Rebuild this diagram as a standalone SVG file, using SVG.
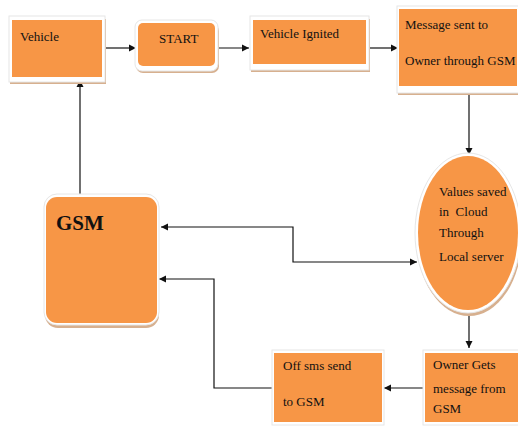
<svg xmlns="http://www.w3.org/2000/svg" width="518" height="426" viewBox="0 0 518 426">
<defs>
<style>
.sh{fill:#d7b08f}
.fr{fill:#ffffff;stroke:#e6e6e6;stroke-width:1}
.bx{fill:#f79646}
.t{font-family:"Liberation Serif","Times New Roman",serif;font-size:13px;fill:#111;white-space:pre}
.big{font-family:"Liberation Serif","Times New Roman",serif;font-size:21px;font-weight:bold;fill:#111}
.ln{fill:none;stroke:#111;stroke-width:1.2}
</style>
<marker id="ah" markerWidth="8" markerHeight="8" refX="7" refY="4" orient="auto" markerUnits="userSpaceOnUse">
<path d="M0,0.5 L7,4 L0,7.5 Z" fill="#111"/>
</marker>
<marker id="ahs" markerWidth="8" markerHeight="8" refX="1" refY="4" orient="auto" markerUnits="userSpaceOnUse">
<path d="M8,0.5 L1,4 L8,7.5 Z" fill="#111"/>
</marker>
</defs>
<rect width="518" height="426" fill="#ffffff"/>

<g id="connectors">
<path class="ln" d="M104,48 H136" marker-end="url(#ah)"/>
<path class="ln" d="M216,48 H249" marker-end="url(#ah)"/>
<path class="ln" d="M369,48 H398" marker-end="url(#ah)"/>
<path class="ln" d="M469,93 V155" marker-end="url(#ah)"/>
<path class="ln" d="M469,312 V348" marker-end="url(#ah)"/>
<path class="ln" d="M425,388 H384" marker-end="url(#ah)"/>
<path class="ln" d="M274,388 H214 V279 H159" marker-end="url(#ah)"/>
<path class="ln" d="M80,197 V80" marker-end="url(#ah)"/>
<path class="ln" d="M161,227 H293 V262 H417" marker-start="url(#ahs)" marker-end="url(#ah)"/>
</g>

<g id="vehicle">
<rect class="sh" x="10" y="19" width="96" height="65"/>
<rect class="fr" x="9" y="16" width="96" height="66"/>
<rect class="bx" x="12" y="20" width="90" height="57"/>
<text class="t" x="20" y="41">Vehicle</text>
</g>

<g id="start">
<rect class="sh" x="136" y="24" width="83" height="49" rx="7"/>
<rect class="fr" x="135" y="20" width="83" height="51" rx="7"/>
<rect class="bx" x="138" y="23" width="77" height="43" rx="5"/>
<text class="t" x="159" y="43">START</text>
</g>

<g id="vehicle-ignited">
<rect class="sh" x="251" y="19" width="119" height="53"/>
<rect class="fr" x="250" y="16" width="119" height="54"/>
<rect class="bx" x="253" y="20" width="113" height="44"/>
<text class="t" x="260" y="38">Vehicle Ignited</text>
</g>

<g id="message">
<rect class="sh" x="398" y="9" width="121" height="86"/>
<rect class="fr" x="397" y="6" width="122" height="87"/>
<rect class="bx" x="399" y="9" width="118" height="77"/>
<text class="t" x="405" y="29">Message sent to</text>
<text class="t" x="405" y="65">Owner through GSM</text>
</g>

<g id="cloud">
<ellipse cx="469" cy="236" rx="53" ry="80" fill="#d7b08f"/>
<ellipse cx="468" cy="233" rx="53" ry="80" fill="#ffffff" stroke="#e6e6e6"/>
<ellipse cx="468" cy="233" rx="50" ry="77" class="bx"/>
<text class="t" x="439" y="196">Values saved</text>
<text class="t" x="439" y="216" xml:space="preserve">in  Cloud</text>
<text class="t" x="439" y="237">Through</text>
<text class="t" x="439" y="261">Local server</text>
</g>

<g id="gsm">
<rect class="sh" x="45" y="198" width="114" height="130" rx="13"/>
<rect class="fr" x="44" y="194" width="115" height="131" rx="13"/>
<rect class="bx" x="46" y="197" width="111" height="126" rx="11"/>
<text class="big" x="56" y="230">GSM</text>
</g>

<g id="owner-gets">
<rect class="fr" x="423" y="350" width="96" height="75"/>
<rect class="bx" x="425" y="353" width="93" height="69"/>
<text class="t" x="433" y="369">Owner Gets</text>
<text class="t" x="433" y="393">message from</text>
<text class="t" x="433" y="413">GSM</text>
</g>

<g id="off-sms">
<rect class="fr" x="272" y="350" width="112" height="75"/>
<rect class="bx" x="274" y="353" width="108" height="69"/>
<text class="t" x="283" y="370">Off sms send</text>
<text class="t" x="283" y="406">to GSM</text>
</g>
</svg>
